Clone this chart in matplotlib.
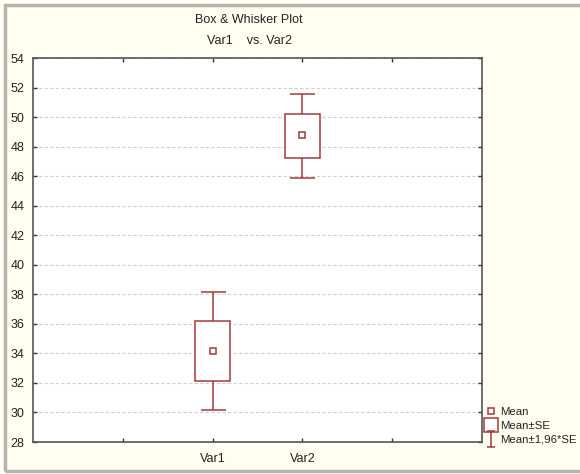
import matplotlib
matplotlib.use('Agg')
import matplotlib.pyplot as plt
from matplotlib.patches import Rectangle
from matplotlib.lines import Line2D
from matplotlib.path import Path

plt.rcParams['font.family'] = ['Liberation Sans', 'DejaVu Sans']

# Данные
categories = ['Var1', 'Var2']
positions = [2, 3]
means = [34.18, 48.76]
se_low = [32.11, 47.25]
se_high = [36.17, 50.19]
ci_low = [30.15, 45.88]
ci_high = [38.13, 51.56]

line_col = '#A33A3C'
bg_col = '#FEFEF1'
txt_col = '#222222'

fig = plt.figure(figsize=(5.8, 4.74), dpi=100, facecolor=bg_col)
ax = fig.add_axes([33 / 580, 32 / 474, 449 / 580, 384 / 474])
ax.set_facecolor('white')

# Усы: среднее ± 1,96*SE
err_lo = [m - lo for m, lo in zip(means, ci_low)]
err_hi = [hi - m for m, hi in zip(means, ci_high)]
ax.errorbar(positions, means, yerr=[err_lo, err_hi], fmt='none',
            ecolor=line_col, elinewidth=1.1, capsize=9, capthick=1.1, zorder=2)

# Коробки: среднее ± SE
heights = [hi - lo for lo, hi in zip(se_low, se_high)]
ax.bar(positions, heights, bottom=se_low, width=0.39,
       facecolor='white', edgecolor=line_col, linewidth=1.1, zorder=3)

# Среднее
ax.plot(positions, means, 's', ms=4.5, mfc='white', mec=line_col,
        mew=1.1, ls='none', zorder=4)

ax.set_xlim(0, 5)
ax.set_ylim(28, 54)
ax.set_yticks(range(28, 55, 2))
ax.set_xticks([1, 2, 3, 4])
ax.set_xticklabels(['', categories[0], categories[1], ''])
ax.tick_params(axis='both', direction='in', length=3, width=1, color='#333333',
               labelsize=9, labelcolor=txt_col, top=True, right=True)
ax.tick_params(axis='x', pad=8)
ax.tick_params(axis='y', pad=6)
ax.grid(axis='y', color='#CFCFCF', linestyle=(0, (3, 2)), linewidth=0.8)
ax.set_axisbelow(True)
for s in ax.spines.values():
    s.set_color('#555555')
    s.set_linewidth(1.2)

# Заголовок
fig.text(249 / 580, 1 - 20 / 474, 'Box & Whisker Plot', ha='center', va='center',
         fontsize=9, color=txt_col)
fig.text(249 / 580, 1 - 41 / 474, 'Var1    vs. Var2', ha='center', va='center',
         fontsize=9, color=txt_col)

# Легенда (значок "I" для усов)
i_path = Path([(-0.5, -1), (0.5, -1), (0, -1), (0, 1), (-0.5, 1), (0.5, 1)],
              [Path.MOVETO, Path.LINETO, Path.MOVETO, Path.LINETO,
               Path.MOVETO, Path.LINETO])
h_mean = Line2D([], [], marker='s', ms=5, mfc='white', mec=line_col, mew=1.1, ls='none')
h_box = Line2D([], [], marker='s', ms=10, mfc='white', mec=line_col, mew=1.1, ls='none')
h_ci = Line2D([], [], marker=i_path, ms=11, mfc='none', mec=line_col, mew=1.1, ls='none')
leg = fig.legend([h_mean, h_box, h_ci], ['Mean', 'Mean±SE', 'Mean±1,96*SE'],
                 loc='upper left', bbox_to_anchor=(486 / 580, 1 - 407 / 474),
                 frameon=False, fontsize=8.2, handlelength=0.8, handletextpad=0.4,
                 labelspacing=0.34, borderpad=0, borderaxespad=0)
for t in leg.get_texts():
    t.set_color(txt_col)

# Серая рамка вокруг рисунка
fig.patches.append(Rectangle((5 / 580, 3 / 474), 1.2, 466 / 474,
                             transform=fig.transFigure, fill=False,
                             edgecolor='#B4B4B4', linewidth=2.5))

fig.savefig('out.png', dpi=100, facecolor=bg_col)
